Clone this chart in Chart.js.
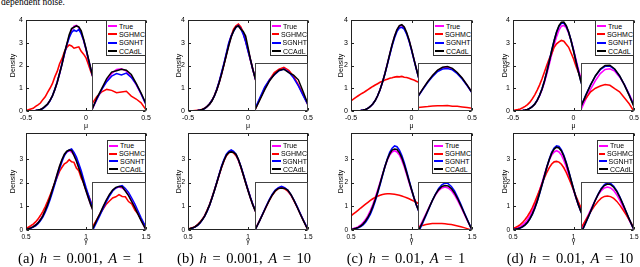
<!DOCTYPE html>
<html><head><meta charset="utf-8">
<script src="https://cdn.jsdelivr.net/npm/chart.js@4.4.0/dist/chart.umd.min.js"></script>
<style>
html,body{margin:0;padding:0;background:#fff;width:640px;height:267px;overflow:hidden;position:relative}
canvas{position:absolute}
.legend{position:absolute;box-sizing:border-box;background:#fff;border:1px solid #333;font:7px "Liberation Sans",Arial,sans-serif;color:#000;padding:1px 0 0 1px}
.li{display:flex;align-items:center;white-space:nowrap}
.sw{display:inline-block;width:9px;height:2px;margin-right:2px}
.cap{position:absolute;font:14.5px "Liberation Serif",serif;white-space:nowrap;transform:translateX(-50%);word-spacing:2px;line-height:14.5px}
#top{position:absolute;left:1px;top:-2px;font:9.5px "Liberation Serif",serif;line-height:9.5px;white-space:nowrap}
</style></head><body>
<div id="top">dependent noise.</div>
<script>
const seriesNames = ['True','SGHMC','SGNHT','CCAdL'];
const seriesColors = ['#ff00ff','#ff0000','#0000ff','#000000'];
const muGrid = [-0.5,-0.48,-0.46,-0.44,-0.42,-0.4,-0.38,-0.36,-0.34,-0.32,-0.3,-0.28,-0.26,-0.24,-0.22,-0.2,-0.18,-0.16,-0.14,-0.12,-0.1,-0.08,-0.06,-0.04,-0.02,0,0.02,0.04,0.06,0.08,0.1,0.12,0.14,0.16,0.18,0.2,0.22,0.24,0.26,0.28,0.3,0.32,0.34,0.36,0.38,0.4,0.42,0.44,0.46,0.48,0.5];
const gammaGrid = [0.5,0.52,0.54,0.56,0.58,0.6,0.62,0.64,0.66,0.68,0.7,0.72,0.74,0.76,0.78,0.8,0.82,0.84,0.86,0.88,0.9,0.92,0.94,0.96,0.98,1,1.02,1.04,1.06,1.08,1.1,1.12,1.14,1.16,1.18,1.2,1.22,1.24,1.26,1.28,1.3,1.32,1.34,1.36,1.38,1.4,1.42,1.44,1.46,1.48,1.5];
const muXTicks = [-0.5,0,0.5];
const gammaXTicks = [0.5,1,1.5];
const muYTicks = [0,1,2,3,4];
const gammaYTicks = [0,1,2,3];
const captionLetters = ['a','b','c','d'];
const captionH = ['0.001','0.001','0.01','0.01'];
const captionA = ['1','10','1','10'];

// ---- mu (top row) ----
const trueMu = [0,0,0.01,0.01,0.02,0.04,0.07,0.12,0.2,0.31,0.46,0.67,0.93,1.26,1.64,2.06,2.49,2.91,3.27,3.56,3.73,3.76,3.66,3.42,3.1,2.7,2.27,1.85,1.45,1.09,0.79,0.56,0.38,0.25,0.16,0.09,0.06,0.03,0.02,0.01,0,0,0,0,0,0,0,0,0,0,0];
const sghmcA = [0.04,0.05,0.09,0.12,0.2,0.27,0.35,0.5,0.62,0.82,1.0,1.2,1.5,1.74,2.08,2.3,2.6,2.8,2.9,2.86,2.76,2.79,2.82,2.62,2.5,2.34,2.05,1.74,1.46,1.2,0.98,0.79,0.6,0.47,0.35,0.25,0.18,0.12,0.08,0.06,0.04,0.03,0.02,0.01,0,0,0,0,0,0,0];
const sgnhtA = [0,0,0.01,0.01,0.02,0.04,0.06,0.11,0.19,0.3,0.45,0.66,0.95,1.28,1.66,2.08,2.5,2.9,3.22,3.45,3.56,3.5,3.58,3.4,3.12,2.72,2.26,1.84,1.44,1.08,0.79,0.55,0.38,0.25,0.16,0.09,0.06,0.03,0.02,0.01,0,0,0,0,0,0,0,0,0,0,0];
const ccadlA = [0,0,0.01,0.01,0.02,0.04,0.07,0.12,0.21,0.3,0.47,0.66,0.94,1.25,1.66,2.05,2.55,2.94,3.35,3.62,3.68,3.74,3.7,3.52,3.15,2.75,2.3,1.86,1.46,1.1,0.78,0.57,0.37,0.25,0.15,0.09,0.06,0.03,0.02,0.01,0,0,0,0,0,0,0,0,0,0,0];
const sghmcB = [0,0,0.01,0.02,0.03,0.04,0.08,0.12,0.2,0.32,0.47,0.68,0.95,1.27,1.66,2.05,2.5,2.95,3.3,3.6,3.74,3.82,3.7,3.45,3.08,2.68,2.24,1.82,1.43,1.07,0.78,0.55,0.37,0.25,0.15,0.09,0.05,0.03,0.02,0.01,0,0,0,0,0,0,0,0,0,0,0];
const sgnhtB = [0,0,0.01,0.01,0.02,0.04,0.07,0.11,0.2,0.32,0.47,0.66,0.96,1.3,1.7,2.1,2.55,3.0,3.3,3.5,3.68,3.75,3.62,3.38,3.05,2.64,2.25,1.82,1.44,1.08,0.78,0.55,0.37,0.24,0.16,0.09,0.06,0.03,0.02,0.01,0,0,0,0,0,0,0,0,0,0,0];
const ccadlB = [0,0,0.01,0.01,0.02,0.04,0.07,0.12,0.2,0.3,0.45,0.67,0.92,1.25,1.62,2.04,2.46,2.88,3.25,3.52,3.7,3.74,3.6,3.5,3.3,2.8,2.28,1.84,1.45,1.1,0.8,0.56,0.38,0.25,0.16,0.09,0.06,0.03,0.02,0.01,0,0,0,0,0,0,0,0,0,0,0];
const sghmcC = [0.45,0.52,0.6,0.67,0.74,0.8,0.87,0.94,1.01,1.08,1.14,1.2,1.26,1.31,1.36,1.4,1.44,1.46,1.49,1.51,1.5,1.52,1.48,1.47,1.44,1.4,1.36,1.31,1.26,1.2,1.14,1.08,1.01,0.94,0.88,0.81,0.74,0.68,0.62,0.56,0.5,0.45,0.4,0.35,0.31,0.27,0.23,0.2,0.17,0.15,0.12];
const sgnhtC = [0,0,0.01,0.01,0.02,0.04,0.07,0.12,0.2,0.31,0.46,0.67,0.93,1.26,1.63,2.04,2.46,2.87,3.22,3.5,3.65,3.68,3.6,3.38,3.07,2.68,2.26,1.84,1.45,1.09,0.79,0.56,0.38,0.25,0.16,0.09,0.06,0.03,0.02,0.01,0,0,0,0,0,0,0,0,0,0,0];
const ccadlC = [0,0,0.01,0.01,0.02,0.04,0.07,0.12,0.2,0.31,0.46,0.67,0.93,1.26,1.64,2.06,2.5,2.92,3.29,3.58,3.75,3.79,3.69,3.45,3.12,2.72,2.28,1.86,1.45,1.09,0.79,0.56,0.38,0.25,0.16,0.09,0.06,0.03,0.02,0.01,0,0,0,0,0,0,0,0,0,0,0];
const sghmcD = [0.02,0.04,0.06,0.09,0.14,0.2,0.28,0.39,0.54,0.71,0.92,1.15,1.42,1.71,2.02,2.3,2.52,2.8,2.95,3.04,3.1,3.07,2.93,2.8,2.55,2.3,1.98,1.71,1.42,1.15,0.92,0.71,0.54,0.39,0.28,0.2,0.14,0.09,0.06,0.04,0.02,0.01,0,0,0,0,0,0,0,0,0];
const sgnhtD = [0,0,0.01,0.01,0.02,0.04,0.07,0.12,0.2,0.31,0.48,0.7,0.98,1.33,1.75,2.2,2.67,3.1,3.46,3.72,3.86,3.87,3.73,3.46,3.1,2.67,2.2,1.75,1.33,0.98,0.7,0.48,0.31,0.2,0.12,0.07,0.04,0.02,0.01,0.01,0,0,0,0,0,0,0,0,0,0,0];
const ccadlD = [0,0,0.01,0.01,0.02,0.04,0.07,0.12,0.19,0.3,0.47,0.69,0.97,1.32,1.73,2.18,2.65,3.09,3.47,3.75,3.9,3.91,3.75,3.47,3.09,2.65,2.18,1.73,1.32,0.97,0.69,0.47,0.3,0.19,0.12,0.07,0.04,0.02,0.01,0.01,0,0,0,0,0,0,0,0,0,0,0];

// ---- gamma (bottom row) ----
const trueGamma = [0.03,0.06,0.09,0.14,0.21,0.31,0.44,0.61,0.82,1.07,1.36,1.68,2.01,2.35,2.67,2.95,3.17,3.3,3.35,3.3,3.17,2.95,2.67,2.35,2.01,1.68,1.36,1.07,0.82,0.61,0.44,0.31,0.21,0.14,0.09,0.06,0.03,0.02,0.01,0.01,0,0,0,0,0,0,0,0,0,0,0];
const sghmcGA = [0.08,0.12,0.18,0.25,0.34,0.46,0.61,0.78,0.98,1.21,1.46,1.72,1.99,2.24,2.49,2.65,2.8,2.86,2.97,2.88,2.86,2.62,2.5,2.2,2.0,1.7,1.47,1.2,0.99,0.77,0.61,0.46,0.34,0.25,0.18,0.12,0.08,0.05,0.03,0.02,0.01,0,0,0,0,0,0,0,0,0,0];
const sgnhtGA = [0.02,0.04,0.07,0.12,0.18,0.27,0.39,0.55,0.75,0.99,1.28,1.6,1.93,2.28,2.6,2.9,3.15,3.3,3.38,3.42,3.28,3.08,2.8,2.5,2.15,1.8,1.48,1.17,0.9,0.68,0.5,0.35,0.24,0.16,0.11,0.07,0.04,0.02,0.01,0.01,0,0,0,0,0,0,0,0,0,0,0];
const ccadlGA = [0.02,0.05,0.09,0.14,0.21,0.3,0.43,0.6,0.83,1.08,1.36,1.7,2.02,2.37,2.7,2.98,3.2,3.33,3.38,3.36,3.15,2.92,2.62,2.32,1.98,1.66,1.35,1.06,0.81,0.6,0.44,0.31,0.21,0.14,0.09,0.06,0.03,0.02,0.01,0.01,0,0,0,0,0,0,0,0,0,0,0];
const sghmcGB = [0.03,0.07,0.1,0.15,0.23,0.33,0.46,0.62,0.84,1.08,1.37,1.68,2.0,2.33,2.65,2.93,3.14,3.27,3.3,3.26,3.14,2.95,2.66,2.35,2.02,1.69,1.37,1.08,0.83,0.62,0.45,0.32,0.22,0.15,0.1,0.06,0.04,0.02,0.01,0.01,0,0,0,0,0,0,0,0,0,0,0];
const sgnhtGB = [0.02,0.05,0.08,0.13,0.2,0.3,0.43,0.6,0.8,1.05,1.35,1.67,2.02,2.36,2.7,2.98,3.2,3.32,3.38,3.32,3.2,2.98,2.7,2.38,2.04,1.7,1.38,1.09,0.84,0.63,0.45,0.32,0.22,0.14,0.09,0.06,0.03,0.02,0.01,0.01,0,0,0,0,0,0,0,0,0,0,0];
const ccadlGB = [0.03,0.06,0.09,0.14,0.21,0.31,0.44,0.6,0.82,1.06,1.35,1.67,2.0,2.34,2.66,2.94,3.16,3.28,3.3,3.28,3.2,2.98,2.68,2.35,2.0,1.67,1.35,1.06,0.82,0.61,0.44,0.31,0.21,0.14,0.09,0.06,0.03,0.02,0.01,0.01,0,0,0,0,0,0,0,0,0,0,0];
const sghmcGC = [0.6,0.68,0.76,0.84,0.93,1.01,1.09,1.17,1.25,1.32,1.38,1.43,1.47,1.5,1.52,1.53,1.53,1.52,1.51,1.49,1.47,1.44,1.4,1.36,1.32,1.27,1.22,1.17,1.11,1.05,0.99,0.93,0.87,0.81,0.75,0.69,0.64,0.58,0.53,0.48,0.44,0.39,0.35,0.32,0.28,0.25,0.22,0.2,0.17,0.15,0.13];
const sgnhtGC = [0.02,0.03,0.05,0.09,0.14,0.22,0.33,0.48,0.67,0.92,1.21,1.55,1.91,2.29,2.67,3.0,3.28,3.46,3.55,3.52,3.38,3.15,2.84,2.48,2.1,1.73,1.37,1.06,0.79,0.57,0.4,0.27,0.18,0.11,0.07,0.04,0.02,0.01,0.01,0,0,0,0,0,0,0,0,0,0,0,0];
const ccadlGC = [0.02,0.04,0.07,0.11,0.17,0.26,0.38,0.54,0.74,0.99,1.28,1.61,1.96,2.32,2.67,2.98,3.22,3.38,3.42,3.4,3.27,3.05,2.76,2.42,2.06,1.71,1.37,1.07,0.81,0.59,0.42,0.29,0.2,0.13,0.08,0.05,0.03,0.02,0.01,0,0,0,0,0,0,0,0,0,0,0,0];
const sghmcGD = [0.07,0.11,0.16,0.23,0.32,0.44,0.58,0.75,0.95,1.18,1.43,1.69,1.96,2.21,2.44,2.64,2.79,2.88,2.9,2.87,2.78,2.63,2.43,2.2,1.96,1.7,1.44,1.19,0.96,0.76,0.59,0.45,0.33,0.24,0.17,0.12,0.08,0.05,0.03,0.02,0.01,0,0,0,0,0,0,0,0,0,0];
const sgnhtGD = [0.01,0.03,0.05,0.08,0.13,0.21,0.32,0.47,0.66,0.91,1.2,1.54,1.9,2.28,2.66,3.0,3.28,3.47,3.56,3.53,3.39,3.16,2.85,2.49,2.11,1.74,1.38,1.07,0.8,0.58,0.41,0.28,0.18,0.12,0.07,0.04,0.02,0.01,0.01,0,0,0,0,0,0,0,0,0,0,0,0];
const ccadlGD = [0.01,0.03,0.05,0.09,0.14,0.22,0.33,0.48,0.68,0.93,1.22,1.56,1.92,2.29,2.66,2.98,3.25,3.42,3.5,3.47,3.34,3.12,2.82,2.47,2.1,1.73,1.38,1.07,0.8,0.58,0.41,0.28,0.18,0.11,0.07,0.04,0.02,0.01,0.01,0,0,0,0,0,0,0,0,0,0,0,0];

// ---- layout ----
const colL = [26,188,351,513], colR = [146,308,472,634];
const rowT = [20,133], rowB = [111,230];
const insetL = [92,255,418,581], insetT = [63,182];
const legendL = [[106,270,433,595],[107,270,432,597]], legendT = [20,140], legendRowH = [8.3,7.8];
const densityGap = [13,9,10,8];
const captionX = [81,244,406,570], captionTop = 251;

const rows = [
  {grid: muGrid, xTicks: muXTicks, yTicks: muYTicks, xmin:-0.5, xmax:0.5, ymax:4, xLabel:'\u03bc', font:7,
   insetX:[-0.2,0.02], insetY:[[2,4],[2,4],[1.2,4],[2,4]],
   series:[[trueMu,sghmcA,sgnhtA,ccadlA],[trueMu,sghmcB,sgnhtB,ccadlB],[trueMu,sghmcC,sgnhtC,ccadlC],[trueMu,sghmcD,sgnhtD,ccadlD]]},
  {grid: gammaGrid, xTicks: gammaXTicks, yTicks: gammaYTicks, xmin:0.5, xmax:1.5, ymax:4.1, xLabel:'\u03b3', font:6.5,
   insetX:[0.69,1.03], insetY:[[1.2,3.6],[1.2,3.6],[1.2,3.6],[1.2,3.6]],
   series:[[trueGamma,sghmcGA,sgnhtGA,ccadlGA],[trueGamma,sghmcGB,sgnhtGB,ccadlGB],[trueGamma,sghmcGC,sgnhtGC,ccadlGC],[trueGamma,sghmcGD,sgnhtGD,ccadlGD]]}
];

const framePlugin = {
  id: 'frame',
  afterDraw(chart, args, o) {
    if (!o || !o.show) return;
    const {ctx, chartArea: a} = chart;
    ctx.save();
    ctx.strokeStyle = o.color; ctx.lineWidth = 1;
    const l = Math.round(a.left)+0.5, t = Math.round(a.top)+0.5, r = Math.round(a.right)-0.5, b = Math.round(a.bottom)-0.5;
    ctx.strokeRect(l, t, r-l, b-t);
    if (o.ticks) {
      const xs = chart.scales.x, ys = chart.scales.y;
      ctx.beginPath();
      o.xTicks.forEach(v => { const p = Math.round(xs.getPixelForValue(v))+0.5; ctx.moveTo(p,b); ctx.lineTo(p,b-2.5); ctx.moveTo(p,t); ctx.lineTo(p,t+2.5); });
      o.yTicks.forEach(v => { const p = Math.round(ys.getPixelForValue(v))+0.5; ctx.moveTo(l,p); ctx.lineTo(l+2.5,p); ctx.moveTo(r,p); ctx.lineTo(r-2.5,p); });
      ctx.stroke();
    }
    ctx.restore();
  }
};
Chart.register(framePlugin);

function makeDatasets(grid, series, lw) {
  return series.map((vals, k) => ({
    label: seriesNames[k],
    data: grid.map((x, i) => ({x: x, y: vals[i]})),
    borderColor: seriesColors[k],
    borderWidth: lw,
    pointRadius: 0,
    fill: false,
    tension: 0,
    order: 3 - k
  }));
}

function addCanvas(left, top, w, h, bg) {
  const c = document.createElement('canvas');
  c.width = w; c.height = h;
  c.style.left = left + 'px'; c.style.top = top + 'px';
  c.style.width = w + 'px'; c.style.height = h + 'px';
  if (bg) c.style.background = bg;
  document.body.appendChild(c);
  return c;
}

const YW = 28, XH = 26, PT = 6, PR = 10;
rows.forEach((row, ri) => {
  for (let ci = 0; ci < 4; ci++) {
    const L = colL[ci], R = colR[ci], T = rowT[ri], B = rowB[ri];
    const W = R - L, H = B - T;
    const cv = addCanvas(L - YW, T - PT, W + YW + PR, H + PT + XH);
    const tickFont = {family: '"Liberation Sans", Arial, sans-serif', size: row.font};
    new Chart(cv, {
      type: 'line',
      data: {datasets: makeDatasets(row.grid, row.series[ci], 1.6)},
      options: {
        responsive: false, animation: false, devicePixelRatio: 1, events: [],
        layout: {padding: {left: 0, top: PT, right: PR, bottom: 0}},
        plugins: {legend: {display: false}, tooltip: {enabled: false},
          frame: {show: true, color: '#222', ticks: true, xTicks: row.xTicks, yTicks: row.yTicks}},
        scales: {
          x: {type: 'linear', min: row.xmin, max: row.xmax,
            grid: {display: false, drawTicks: false}, border: {display: false},
            afterBuildTicks: s => { s.ticks = row.xTicks.map(v => ({value: v})); },
            afterFit: s => { s.height = XH; s.paddingLeft = 0; s.paddingRight = 0; },
            ticks: {autoSkip: false, maxRotation: 0, minRotation: 0, padding: 3, color: '#000', font: tickFont, callback: v => String(v)},
            title: {display: true, text: row.xLabel, color: '#000', font: {family: '"Liberation Sans", Arial, sans-serif', size: 7},
              padding: {top: 0, bottom: (ri === 0 ? 6.8 : 10.8)}}},
          y: {type: 'linear', min: 0, max: row.ymax,
            grid: {display: false, drawTicks: false}, border: {display: false},
            afterBuildTicks: s => { s.ticks = row.yTicks.map(v => ({value: v})); },
            afterFit: s => { s.width = YW; s.paddingTop = 0; s.paddingBottom = 0; },
            ticks: {autoSkip: false, padding: 3, color: '#000', font: tickFont, callback: v => String(v)},
            title: {display: true, text: 'Density', color: '#000', font: {family: '"Liberation Sans", Arial, sans-serif', size: 7},
              padding: {top: YW - densityGap[ci] - 4.2, bottom: 0}}}
        }
      }
    });

    // inset
    const iL = insetL[ci], iT = insetT[ri];
    const icv = addCanvas(iL, iT, R - iL, B - iT, '#fff');
    new Chart(icv, {
      type: 'line',
      data: {datasets: makeDatasets(row.grid, row.series[ci], 1.5)},
      options: {
        responsive: false, animation: false, devicePixelRatio: 1, events: [],
        layout: {padding: 0},
        plugins: {legend: {display: false}, tooltip: {enabled: false}, frame: {show: true, color: '#444', ticks: false}},
        scales: {
          x: {type: 'linear', display: false, min: row.insetX[0], max: row.insetX[1]},
          y: {type: 'linear', display: false, min: row.insetY[ci][0], max: row.insetY[ci][1]}
        }
      }
    });

    // legend
    const lg = document.createElement('div');
    lg.className = 'legend';
    lg.style.left = legendL[ri][ci] + 'px';
    lg.style.top = legendT[ri] + 'px';
    lg.style.width = (R - legendL[ri][ci]) + 'px';
    seriesNames.forEach((n, k) => {
      const it = document.createElement('div');
      it.className = 'li';
      it.style.height = legendRowH[ri] + 'px';
      const sw = document.createElement('span');
      sw.className = 'sw'; sw.style.background = seriesColors[k];
      it.appendChild(sw);
      it.appendChild(document.createTextNode(n));
      lg.appendChild(it);
    });
    document.body.appendChild(lg);
  }
});

for (let ci = 0; ci < 4; ci++) {
  const cp = document.createElement('div');
  cp.className = 'cap';
  cp.style.left = captionX[ci] + 'px';
  cp.style.top = captionTop + 'px';
  cp.innerHTML = '(' + captionLetters[ci] + ') <i>h</i> = ' + captionH[ci] + ', <i>A</i> = ' + captionA[ci];
  document.body.appendChild(cp);
}
</script>
</body></html>
